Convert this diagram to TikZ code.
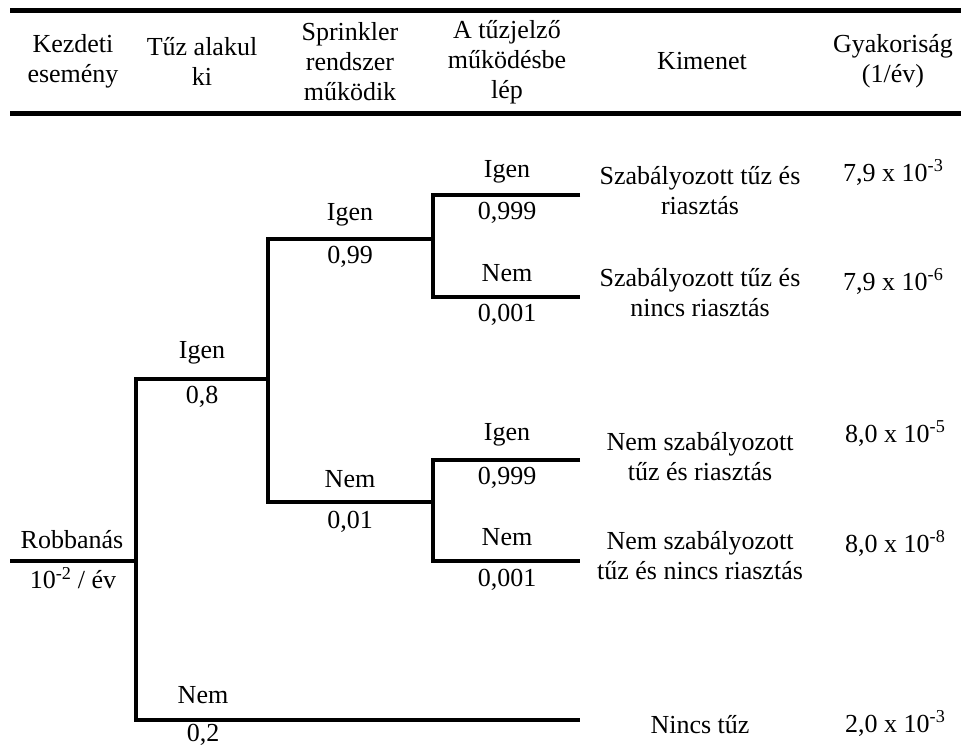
\documentclass[tikz,border=0pt]{standalone}
\usepackage{fontspec}
\setmainfont{Liberation Serif}
\begin{document}
\begin{tikzpicture}[x=1pt,y=-1pt,
  every node/.style={inner sep=0pt, font=\fontsize{26}{30}\selectfont, align=center},
  branch/.style={line width=4pt, line join=miter},
  rulebar/.style={line width=5pt},
  freq/.style={anchor=base west}]
\useasboundingbox (0,0) rectangle (961,748);

% header rules
\coordinate (t1) at (10,10);   \coordinate (t2) at (961,10);
\coordinate (b1) at (10,113);  \coordinate (b2) at (961,113);
\draw[rulebar] (t1) -- (t2);
\draw[rulebar] (b1) -- (b2);

% header texts
\node (h1) at (73,61)  {Kezdeti\\esemény};
\node (h2) at (202,61) {Tűz alakul\\ki};
\node (h3) at (350,62) {Sprinkler\\rendszer\\működik};
\node (h4) at (507,62) {A tűzjelző\\működésbe\\lép};
\node (h5) at (702,61) {Kimenet};
\node (h6) at (893,61) {Gyakoriság\\(1/év)};

% tree coordinates
\coordinate (r0) at (10,561);
\coordinate (r1) at (136,561);
\coordinate (aT) at (136,379);
\coordinate (aB) at (136,720);
\coordinate (fY) at (268,379);
\coordinate (fN) at (580,720);
\coordinate (bT) at (268,239);
\coordinate (bB) at (268,502);
\coordinate (sY) at (433,239);
\coordinate (sN) at (433,502);
\coordinate (c1T) at (433,195);
\coordinate (c1B) at (433,297);
\coordinate (e1) at (580,195);
\coordinate (e2) at (580,297);
\coordinate (c2T) at (433,460);
\coordinate (c2B) at (433,561);
\coordinate (e3) at (580,460);
\coordinate (e4) at (580,561);

% tree lines
\draw[branch] (r0) -- (r1);
\draw[branch] (fY) -- (aT) -- (aB) -- (fN);
\draw[branch] (sY) -- (bT) -- (bB) -- (sN);
\draw[branch] (e1) -- (c1T) -- (c1B) -- (e2);
\draw[branch] (e3) -- (c2T) -- (c2B) -- (e4);

% branch labels
\node (rob)  at (72,540) {Robbanás};
\node (robf) at (73,578) {10\textsuperscript{-2} / év};
\node (fyl) at (202,353) {Igen};
\node (fyp) at (202,397) {0,8};
\node (fnl) at (203,695) {Nem};
\node (fnp) at (203,735) {0,2};
\node (syl) at (350,215) {Igen};
\node (syp) at (350,257) {0,99};
\node (snl) at (350,479) {Nem};
\node (snp) at (350,522) {0,01};
\node (a1yl) at (507,172) {Igen};
\node (a1yp) at (507,213) {0,999};
\node (a1nl) at (507,273) {Nem};
\node (a1np) at (507,315) {0,001};
\node (a2yl) at (507,435) {Igen};
\node (a2yp) at (507,478) {0,999};
\node (a2nl) at (507,537) {Nem};
\node (a2np) at (507,580) {0,001};

% outcomes
\node (o1) at (700,191) {Szabályozott tűz és\\riasztás};
\node (o2) at (700,293) {Szabályozott tűz és\\nincs riasztás};
\node (o3) at (700,457) {Nem szabályozott\\tűz és riasztás};
\node (o4) at (700,556) {Nem szabályozott\\tűz és nincs riasztás};
\node[anchor=base] (o5) at (700,733) {Nincs tűz};

% frequencies
\node[freq] (f1) at (843,181) {7,9 x 10\textsuperscript{-3}};
\node[freq] (f2) at (843,290) {7,9 x 10\textsuperscript{-6}};
\node[freq] (f3) at (845,442) {8,0 x 10\textsuperscript{-5}};
\node[freq] (f4) at (845,552) {8,0 x 10\textsuperscript{-8}};
\node[freq] (f5) at (845,732) {2,0 x 10\textsuperscript{-3}};
\end{tikzpicture}
\end{document}
